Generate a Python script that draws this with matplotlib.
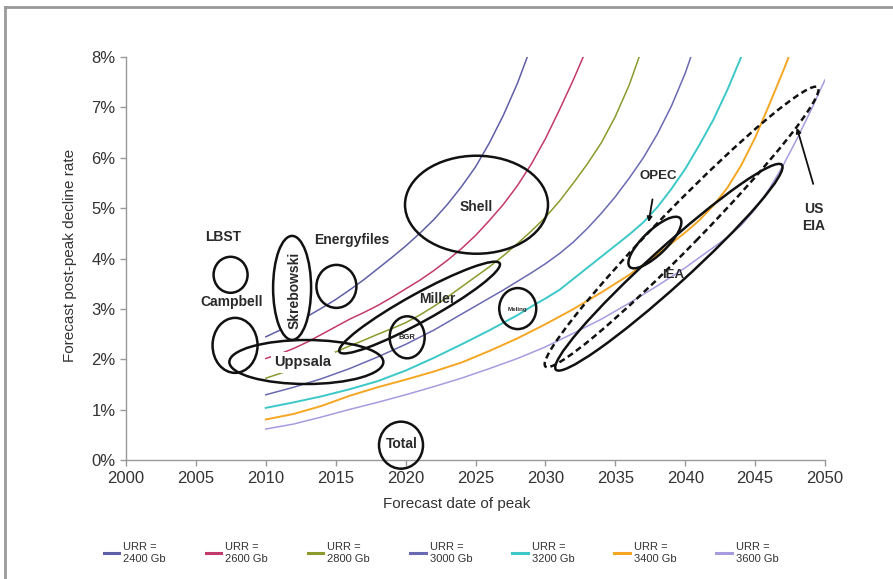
"""Forecast post-peak decline rate vs forecast date of peak, by URR."""

import numpy as np
import matplotlib
matplotlib.use("Agg")
import matplotlib.pyplot as plt
from matplotlib.patches import Ellipse
from matplotlib.transforms import ScaledTranslation
from matplotlib.lines import Line2D

plt.rcParams["font.family"] = ["Liberation Sans", "DejaVu Sans"]

# URR curves: (years, decline rate %)
urr_labels = ["URR =\n2400 Gb", "URR =\n2600 Gb", "URR =\n2800 Gb", "URR =\n3000 Gb",
              "URR =\n3200 Gb", "URR =\n3400 Gb", "URR =\n3600 Gb"]
urr_colors = ["#5f5fa8", "#c23a6c", "#8c9a2c", "#6a6ab2", "#3cc8c8", "#f5a623", "#a99be0"]

yrs_2400 = [2010, 2011, 2012, 2013, 2014, 2015, 2016, 2017, 2018, 2019, 2020, 2021, 2022,
            2023, 2024, 2025, 2026, 2027, 2028, 2028.7]
val_2400 = [2.45, 2.58, 2.72, 2.86, 3.02, 3.19, 3.38, 3.58, 3.8, 4.02, 4.25, 4.5, 4.77,
            5.08, 5.43, 5.82, 6.3, 6.85, 7.48, 8.0]
yrs_2600 = [2010, 2011, 2012, 2013, 2014, 2015, 2016, 2017, 2018, 2019, 2020, 2021, 2022,
            2023, 2024, 2025, 2026, 2027, 2028, 2029, 2030, 2031, 2032, 2032.7]
val_2600 = [2.02, 2.11, 2.22, 2.35, 2.5, 2.65, 2.8, 2.93, 3.07, 3.23, 3.4, 3.57, 3.76,
            3.97, 4.2, 4.46, 4.76, 5.08, 5.45, 5.88, 6.38, 6.95, 7.55, 8.0]
yrs_2800 = [2010, 2011, 2012, 2013, 2014, 2015, 2016, 2017, 2018, 2019, 2020, 2021, 2022,
            2023, 2024, 2025, 2026, 2027, 2028, 2029, 2030, 2031, 2032, 2033, 2034, 2035,
            2036, 2036.7]
val_2800 = [1.63, 1.72, 1.82, 1.93, 2.04, 2.15, 2.27, 2.38, 2.5, 2.61, 2.73, 2.88, 3.05,
            3.24, 3.44, 3.64, 3.84, 4.06, 4.3, 4.55, 4.82, 5.14, 5.5, 5.88, 6.3, 6.82,
            7.45, 8.0]
yrs_3000 = [2010, 2012, 2014, 2016, 2018, 2020, 2022, 2024, 2025, 2026, 2027, 2028, 2029,
            2030, 2031, 2032, 2033, 2034, 2035, 2036, 2037, 2038, 2039, 2040, 2040.4]
val_3000 = [1.3, 1.45, 1.62, 1.82, 2.05, 2.3, 2.58, 2.9, 3.06, 3.22, 3.38, 3.55, 3.72,
            3.9, 4.1, 4.33, 4.6, 4.9, 5.23, 5.6, 6.0, 6.47, 7.02, 7.68, 8.0]
yrs_3200 = [2010, 2012, 2014, 2016, 2018, 2020, 2022, 2024, 2026, 2028, 2029, 2030, 2031,
            2032, 2033, 2034, 2035, 2036, 2037, 2038, 2039, 2040, 2041, 2042, 2043, 2044]
val_3200 = [1.04, 1.15, 1.27, 1.41, 1.57, 1.78, 2.03, 2.3, 2.58, 2.88, 3.05, 3.21, 3.38,
            3.6, 3.82, 4.04, 4.26, 4.48, 4.72, 5.02, 5.38, 5.78, 6.25, 6.75, 7.34, 8.0]
yrs_3400 = [2010, 2012, 2014, 2016, 2018, 2020, 2022, 2024, 2026, 2028, 2030, 2032, 2034,
            2036, 2038, 2039, 2040, 2041, 2042, 2043, 2044, 2045, 2046, 2047, 2047.4]
val_3400 = [0.81, 0.92, 1.08, 1.28, 1.45, 1.6, 1.76, 1.94, 2.17, 2.42, 2.7, 3.0, 3.33,
            3.68, 4.08, 4.3, 4.52, 4.76, 5.05, 5.4, 5.85, 6.4, 7.05, 7.72, 8.0]
yrs_3600 = [2010, 2012, 2014, 2016, 2018, 2020, 2022, 2024, 2026, 2028, 2030, 2032, 2034,
            2036, 2038, 2040, 2041, 2042, 2043, 2044, 2045, 2046, 2047, 2048, 2049, 2050]
val_3600 = [0.62, 0.72, 0.86, 1.01, 1.15, 1.3, 1.46, 1.63, 1.82, 2.02, 2.25, 2.52, 2.8,
            3.12, 3.46, 3.82, 4.02, 4.22, 4.42, 4.66, 4.98, 5.38, 5.85, 6.38, 6.95, 7.55]

curves = [(yrs_2400, val_2400), (yrs_2600, val_2600), (yrs_2800, val_2800), (yrs_3000, val_3000),
          (yrs_3200, val_3200), (yrs_3400, val_3400), (yrs_3600, val_3600)]

# forecast ellipses: centre year, centre %, width px, height px, angle
ell_names = ["LBST", "Campbell", "Skrebowski", "Energyfiles", "Uppsala", "Miller", "BGR",
             "Meling", "Total", "Shell", "OPEC", "IEA", "US EIA"]
ell_cx = [2007.48, 2007.8, 2011.88, 2015.05, 2012.9, 2021.0, 2020.11, 2028.02, 2019.67,
          2025.07, 2037.83, 2038.83, 2039.74]
ell_cy = [3.68, 2.28, 3.42, 3.45, 1.95, 3.03, 2.44, 3.01, 0.30, 5.07, 4.32, 3.83, 4.63]
ell_w = [34, 45, 38, 40, 154, 183, 35, 37, 44, 143, 70, 305, 390]
ell_h = [36, 55, 104, 43, 44, 28, 42, 41, 47, 98, 24, 38, 40]
ell_ang = [0, 0, 0, 0, 0, 28.9, 0, 0, 0, 0, 44, 42.2, 45.7]
ell_fill = [False, False, True, False, False, False, False, False, False, False, False, False, False]
ell_dash = [False] * 12 + [True]

# labels: text, year, %, size, rotation
lab_text = ["LBST", "Campbell", "Skrebowski", "Energyfiles", "Uppsala", "Miller", "BGR",
            "Meling", "Total", "Shell", "OPEC", "IEA", "US\nEIA"]
lab_x = [2006.98, 2007.55, 2012.06, 2016.14, 2012.63, 2022.3, 2020.08, 2028.02, 2019.72,
         2025.02, 2038.05, 2039.12, 2049.2]
lab_y = [4.43, 3.14, 3.37, 4.37, 1.95, 3.2, 2.43, 3.0, 0.32, 5.03, 5.64, 3.68, 4.81]
lab_size = [10, 10, 10, 10, 10.5, 10, 5.5, 4.5, 10, 10, 9.5, 9.5, 10]
lab_rot = [0, 0, 90, 0, 0, 0, 0, 0, 0, 0, 0, 0, 0]

fig = plt.figure(figsize=(8.93, 5.79), dpi=100)
ax = fig.add_axes([0.1411, 0.2050, 0.7828, 0.6965])

for (xs, ys), col, lab in zip(curves, urr_colors, urr_labels):
    lw = 1.4 if col in ("#3cc8c8", "#f5a623") else 1.1
    ax.plot(xs, ys, color=col, linewidth=lw, label=lab, zorder=2,
            solid_joinstyle="round")

for i, name in enumerate(ell_names):
    tr = fig.dpi_scale_trans + ScaledTranslation(ell_cx[i], ell_cy[i], ax.transData)
    e = Ellipse((0, 0), ell_w[i] / 100, ell_h[i] / 100, angle=ell_ang[i], transform=tr,
                facecolor="white" if ell_fill[i] else "none", edgecolor="#111111",
                linewidth=1.8, linestyle=(0, (2.5, 1.5)) if ell_dash[i] else "-",
                zorder=4 if ell_fill[i] else 3, clip_on=False)
    ax.add_patch(e)

for i, t in enumerate(lab_text):
    kw = {}
    if t == "Uppsala":
        kw["bbox"] = dict(facecolor="white", edgecolor="none", pad=2.5)
    ax.text(lab_x[i], lab_y[i], t, fontsize=lab_size[i], rotation=lab_rot[i],
            ha="center", va="center", color="#2a2a2a", fontweight="bold",
            linespacing=1.25 if "\n" in t else 1.0, zorder=5, **kw)

# arrows pointing at OPEC and US EIA ellipses
ax.annotate("", xy=(2037.35, 4.67), xytext=(2037.69, 5.23),
            arrowprops=dict(arrowstyle="-|>", color="#111111", lw=1.3, mutation_scale=7),
            zorder=5)
ax.annotate("", xy=(2047.93, 6.65), xytext=(2049.21, 5.43),
            arrowprops=dict(arrowstyle="-|>", color="#111111", lw=1.3, mutation_scale=7),
            zorder=5)

ax.set_xlim(2000, 2050)
ax.set_ylim(0, 8)
ax.set_xticks(np.arange(2000, 2051, 5))
ax.set_yticks(np.arange(0, 9, 1))
ax.set_yticklabels([f"{v}%" for v in range(9)])
for s in ("top", "right"):
    ax.spines[s].set_visible(False)
for s in ("left", "bottom"):
    ax.spines[s].set_color("#999999")
    ax.spines[s].set_linewidth(1.0)
ax.tick_params(axis="both", colors="#999999", labelcolor="#333333", labelsize=12,
               length=4, width=1)
ax.set_xlabel("Forecast date of peak", fontsize=11, color="#333333")
ax.set_ylabel("Forecast post-peak decline rate", fontsize=11, color="#333333")
ax.xaxis.set_label_coords(0.473, -0.092)
ax.yaxis.set_label_coords(-0.070, 0.509)

ax.legend(loc="center", bbox_to_anchor=(0.494, 0.045), bbox_transform=fig.transFigure,
          ncol=7, frameon=False, fontsize=8, handlelength=1.4, handletextpad=0.35,
          columnspacing=3.6, labelcolor="#333333")
for ln in ax.get_legend().get_lines():
    ln.set_linewidth(2.2)

# gray frame on top and left
fig.add_artist(Line2D([0.0056, 1.0], [0.988, 0.988], transform=fig.transFigure,
                      color="#999999", linewidth=2))
fig.add_artist(Line2D([0.0056, 0.0056], [0.0, 0.988], transform=fig.transFigure,
                      color="#999999", linewidth=2))

fig.savefig("out.png", dpi=100, facecolor="white")
plt.close(fig)
